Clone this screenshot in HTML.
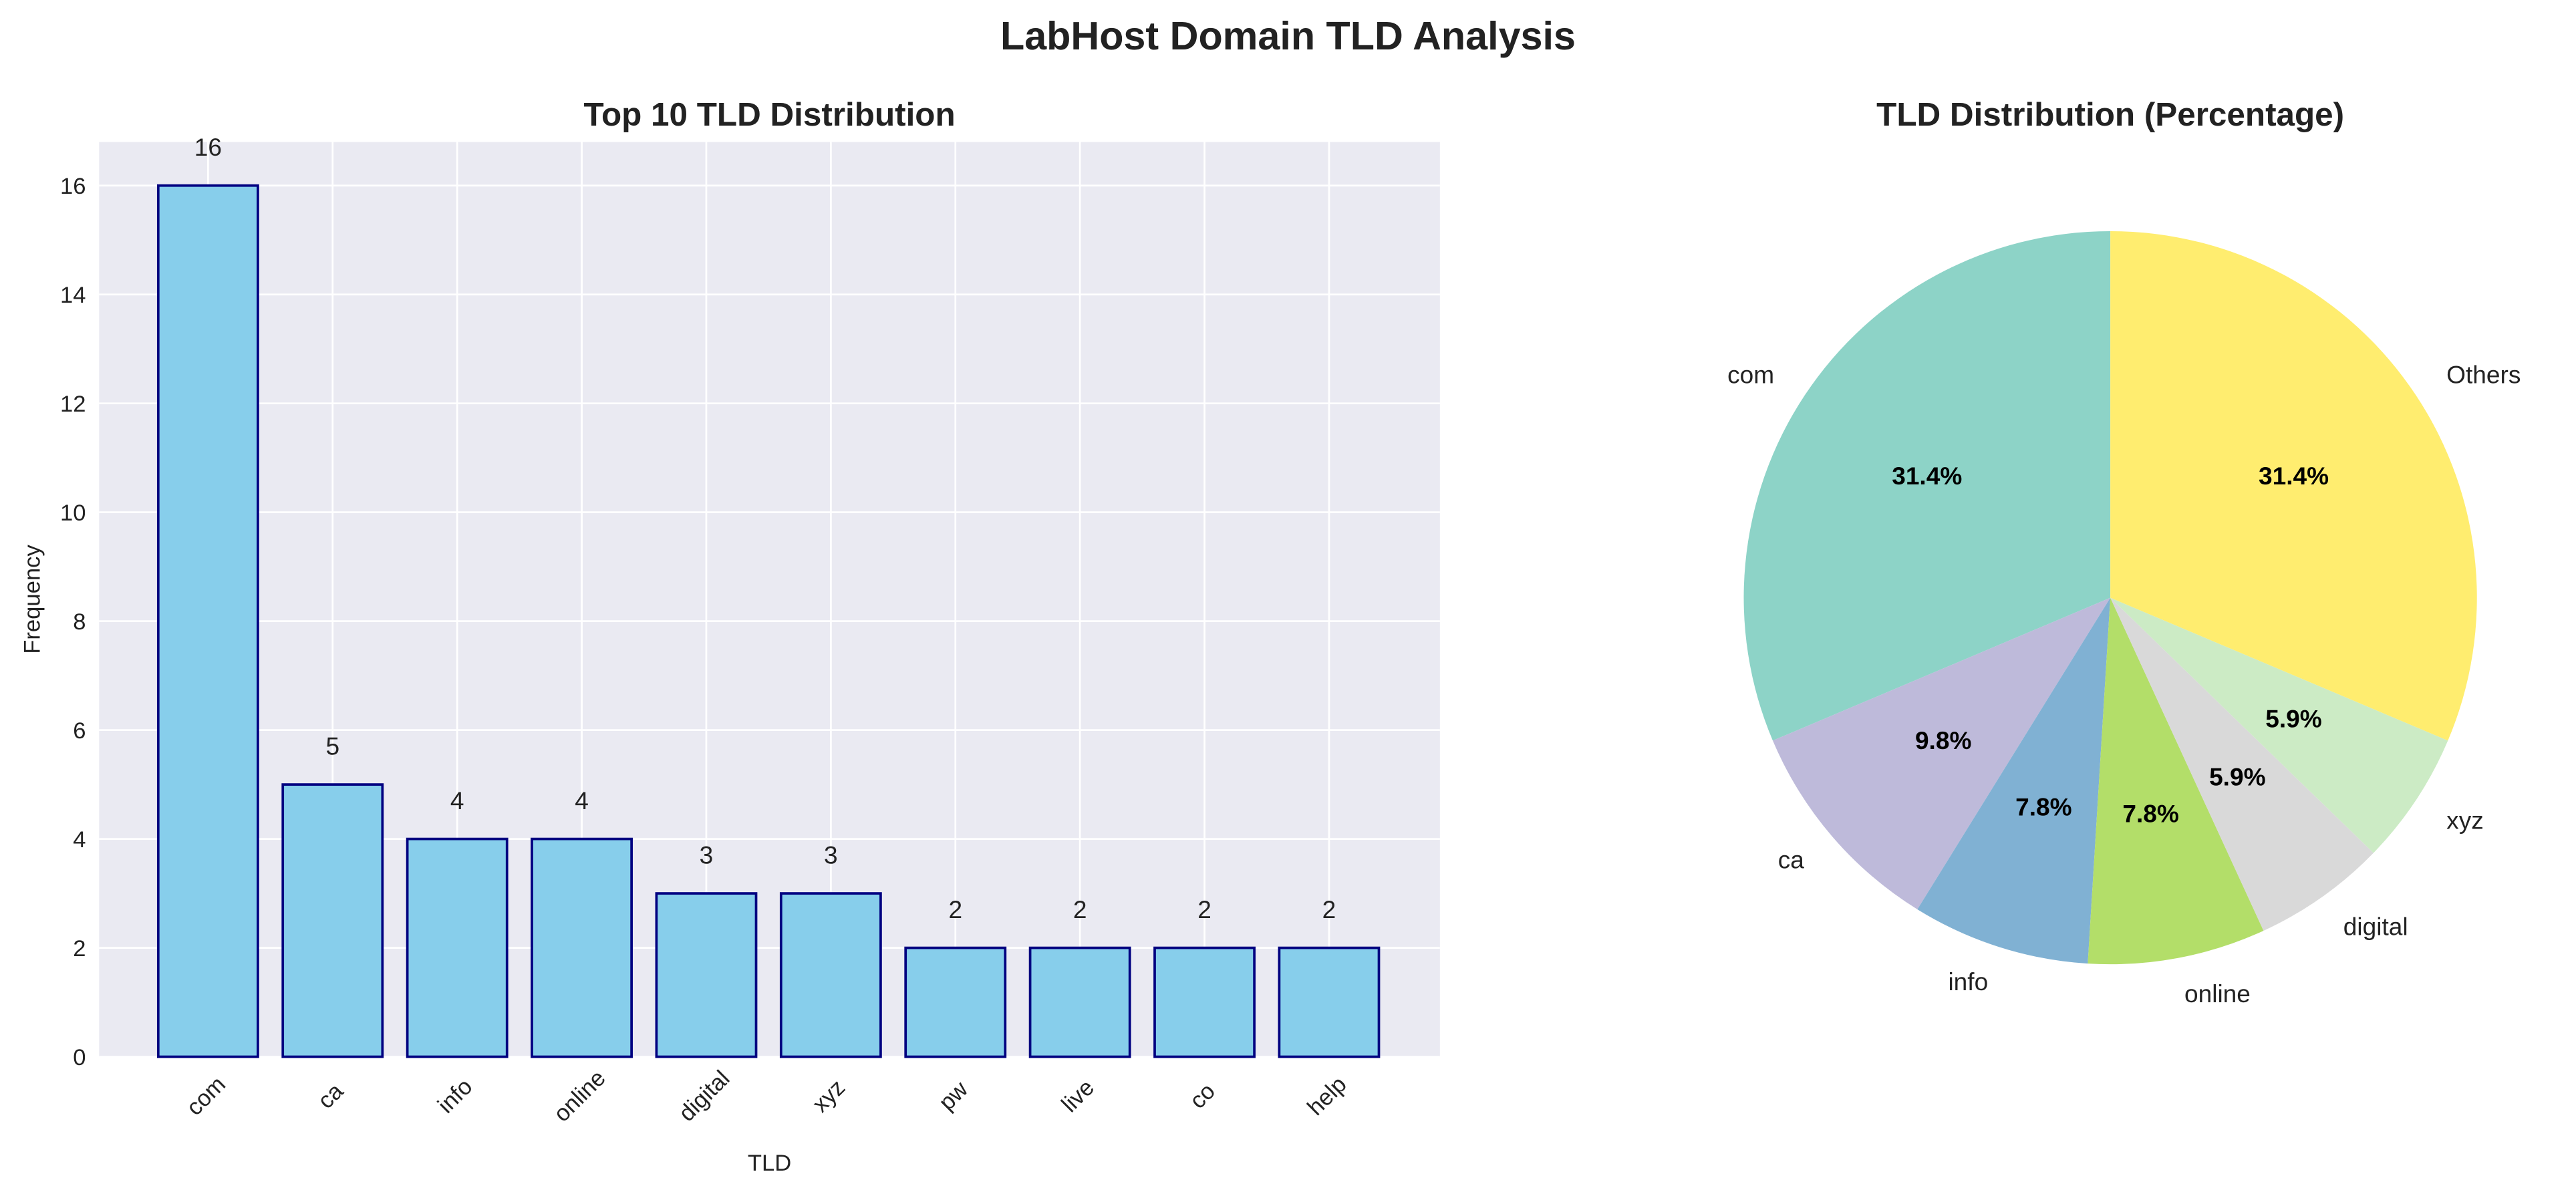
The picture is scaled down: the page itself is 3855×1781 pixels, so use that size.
<!DOCTYPE html>
<html><head><meta charset="utf-8"><style>
html,body{margin:0;padding:0;background:#fff;}
svg{display:block;font-family:"Liberation Sans",Arial,sans-serif;}
</style></head><body>
<svg id="fig" width="3855" height="1781" viewBox="0 0 1560 720.7" xmlns="http://www.w3.org/2000/svg">
<text x="780" y="30" text-anchor="middle" font-size="24" font-weight="bold" fill="#222">LabHost Domain TLD Analysis</text>
<g id="bar"></g>
<g id="pie"></g>
</svg>
<script>
const categories = ["com","ca","info","online","digital","xyz","pw","live","co","help"];
const counts = [16,5,4,4,3,3,2,2,2,2];
const yTicks = [0,2,4,6,8,10,12,14,16];
const pieLabels = ["com","ca","info","online","digital","xyz","Others"];
const pieValues = [16,5,4,4,3,3,16];
const pieColors = ["#8dd3c7","#bebada","#80b1d3","#b3de69","#d9d9d9","#ccebc5","#ffed6f"];

const NS="http://www.w3.org/2000/svg";
function mk(parent,tag,attrs,text){const e=document.createElementNS(NS,tag);for(const k in attrs)e.setAttribute(k,attrs[k]);if(text!==undefined)e.textContent=text;parent.appendChild(e);return e;}

// Bar chart
const bar=document.getElementById('bar');
const L=60,R=872,T=86,B=640,ymax=16.8,xmin=-0.875,xmax=9.89;
const sx=v=>L+(v-xmin)/(xmax-xmin)*(R-L);
const sy=v=>B-v/ymax*(B-T);
const bg=mk(bar,'rect',{x:L,y:T,width:R-L,height:B-T,fill:'#eaeaf2'});


yTicks.forEach(t=>{
  const g=mk(bar,'line',{x1:L,x2:R,y1:sy(t),y2:sy(t),stroke:'#fff','stroke-width':1.1});
  
  
  const tl=mk(bar,'text',{x:L-8,y:sy(t)+5,'text-anchor':'end','font-size':14,fill:'#222'},String(t));
  
  
});
categories.forEach((c,i)=>{
  const g=mk(bar,'line',{x1:sx(i),x2:sx(i),y1:T,y2:B,stroke:'#fff','stroke-width':1.1});
  
  
});
categories.forEach((c,i)=>{
  const w=0.8*(R-L)/(xmax-xmin);
  const r=mk(bar,'rect',{x:sx(i)-w/2,y:sy(counts[i]),width:w,height:B-sy(counts[i]),fill:'#87ceeb',stroke:'#000080','stroke-width':1.5});
  
  
  const v=mk(bar,'text',{x:sx(i),y:sy(counts[i])-18,'text-anchor':'middle','font-size':15,fill:'#222'},String(counts[i]));
  
  
  const xl=mk(bar,'text',{x:0,y:0,'text-anchor':'middle','font-size':14,fill:'#222',transform:`translate(${sx(i)+2},${B+27}) rotate(-45)`},c);
  
  
});
const yt=mk(bar,'text',{x:0,y:0,'text-anchor':'middle','font-size':14,fill:'#222',transform:`translate(24,${(T+B)/2}) rotate(-90)`},'Frequency');


const xt=mk(bar,'text',{x:(L+R)/2,y:709,'text-anchor':'middle','font-size':14,fill:'#222'},'TLD');


const bt=mk(bar,'text',{x:(L+R)/2,y:76,'text-anchor':'middle','font-size':20,'font-weight':'bold',fill:'#222'},'Top 10 TLD Distribution');



// Pie chart
const pie=document.getElementById('pie');
const cx=1278,cy=362,rad=222;
const total=pieValues.reduce((a,b)=>a+b,0);
let ang=90;
const pt=(a,r)=>[cx+r*Math.cos(a*Math.PI/180),cy-r*Math.sin(a*Math.PI/180)];
pieValues.forEach((v,i)=>{
  const span=v/total*360,a0=ang,a1=ang+span,mid=ang+span/2;
  const p0=pt(a0,rad),p1=pt(a1,rad);
  const large=span>180?1:0;
  const s=mk(pie,'path',{d:`M${cx},${cy} L${p0[0]},${p0[1]} A${rad},${rad} 0 ${large} 0 ${p1[0]},${p1[1]} Z`,fill:pieColors[i]});
  
  
  const lp=pt(mid,rad*1.1);
  const cosm=Math.cos(mid*Math.PI/180);
  const anchor=cosm<0?'end':'start';
  const l=mk(pie,'text',{x:lp[0],y:lp[1]+5,'text-anchor':anchor,'font-size':15,fill:'#222'},pieLabels[i]);
  
  
  const pp=pt(mid,rad*0.6);
  const pc=mk(pie,'text',{x:pp[0],y:pp[1]+5,'text-anchor':'middle','font-size':15,'font-weight':'bold',fill:'#000'},(v/total*100).toFixed(1)+'%');
  
  
  ang=a1;
});
const pt2=mk(pie,'text',{x:cx,y:76,'text-anchor':'middle','font-size':20,'font-weight':'bold',fill:'#222'},'TLD Distribution (Percentage)');


</script>
</body></html>
